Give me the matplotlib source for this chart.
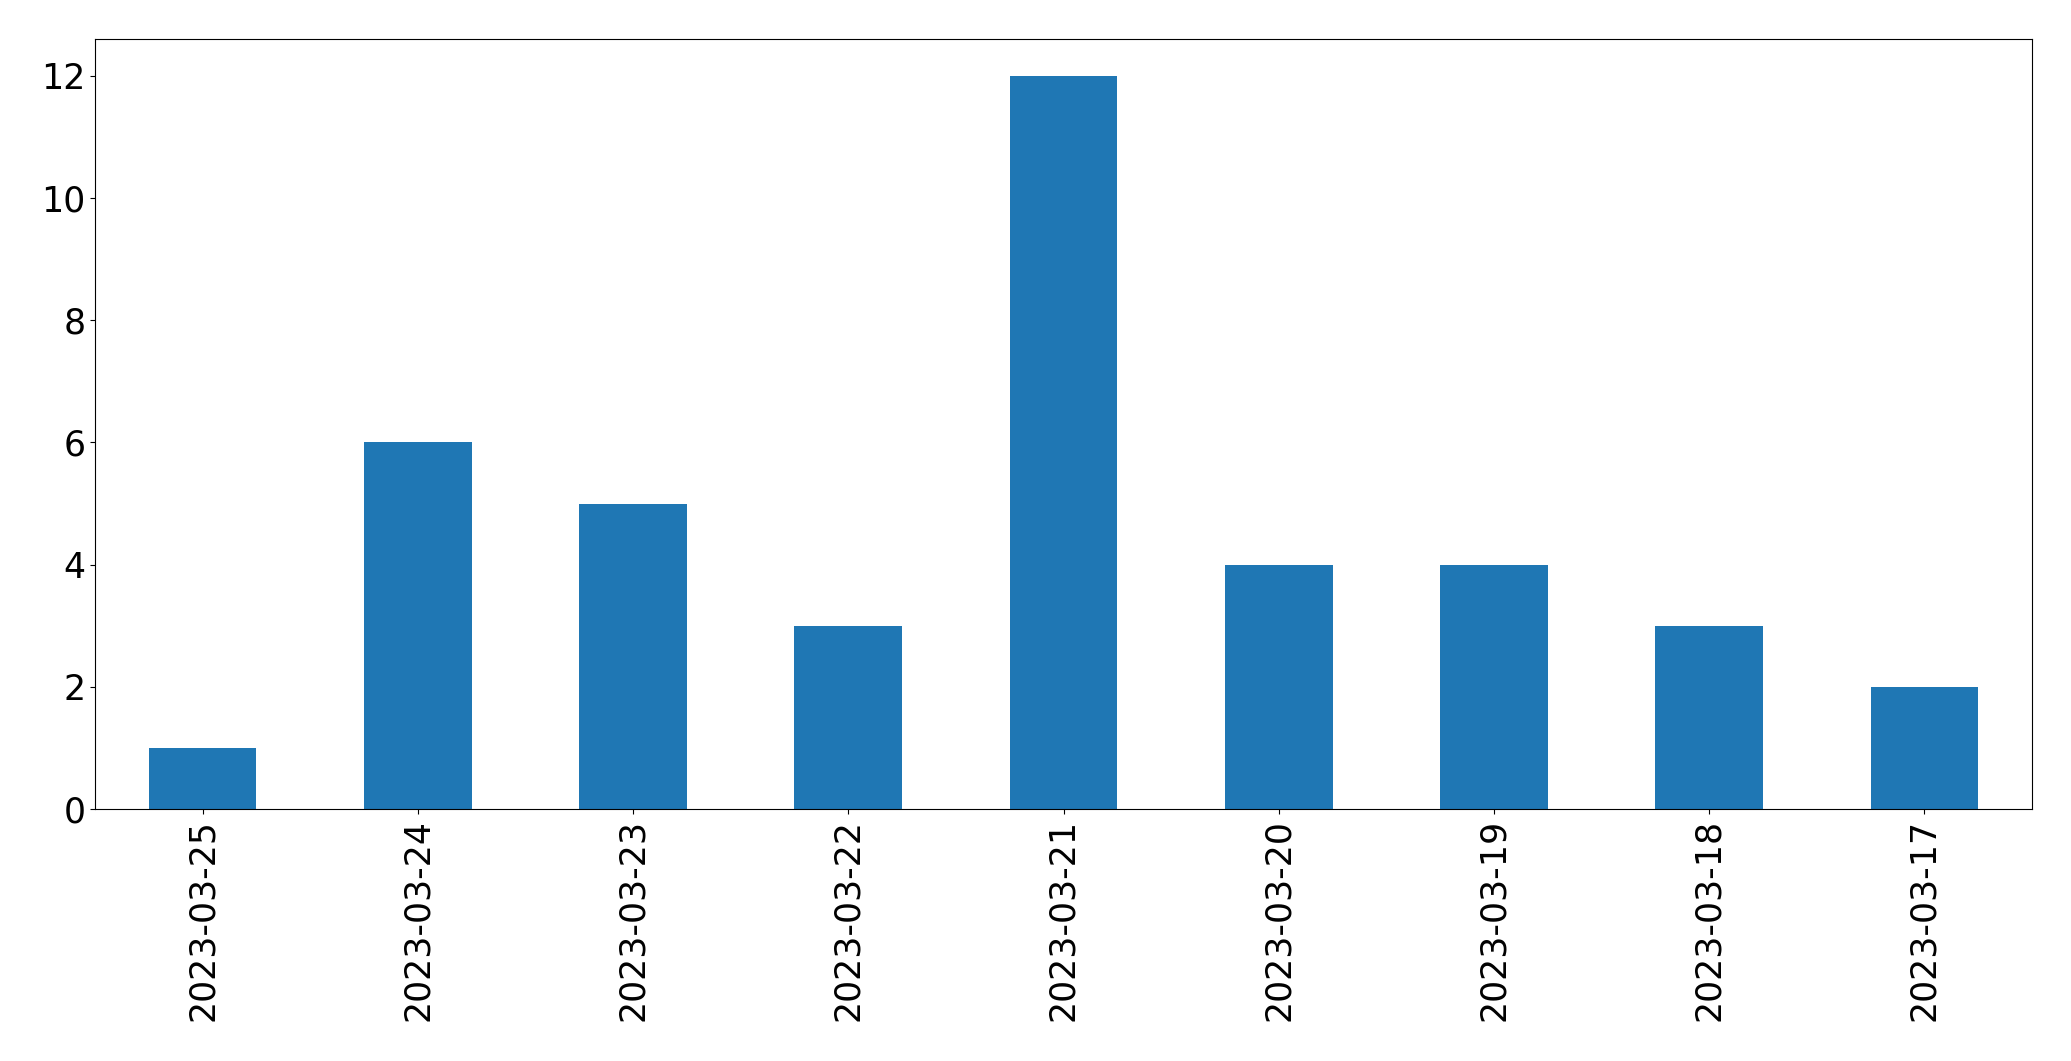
import matplotlib
matplotlib.use("Agg")
import matplotlib.pyplot as plt
import pandas as pd

dates = ["2023-03-25", "2023-03-24", "2023-03-23", "2023-03-22", "2023-03-21",
         "2023-03-20", "2023-03-19", "2023-03-18", "2023-03-17"]
counts = [1, 6, 5, 3, 12, 4, 4, 3, 2]

fig = plt.figure(figsize=(20.71, 10.61), dpi=100)
ax = fig.add_axes([95 / 2071, 1 - 809 / 1061, (2032 - 95) / 2071, (809 - 39.3) / 1061])

s = pd.Series(counts, index=dates)
s.plot(kind="bar", ax=ax, color="#1f77b4")
ax.tick_params(axis="both", labelsize=25)

fig.savefig("out.png", dpi=100)
